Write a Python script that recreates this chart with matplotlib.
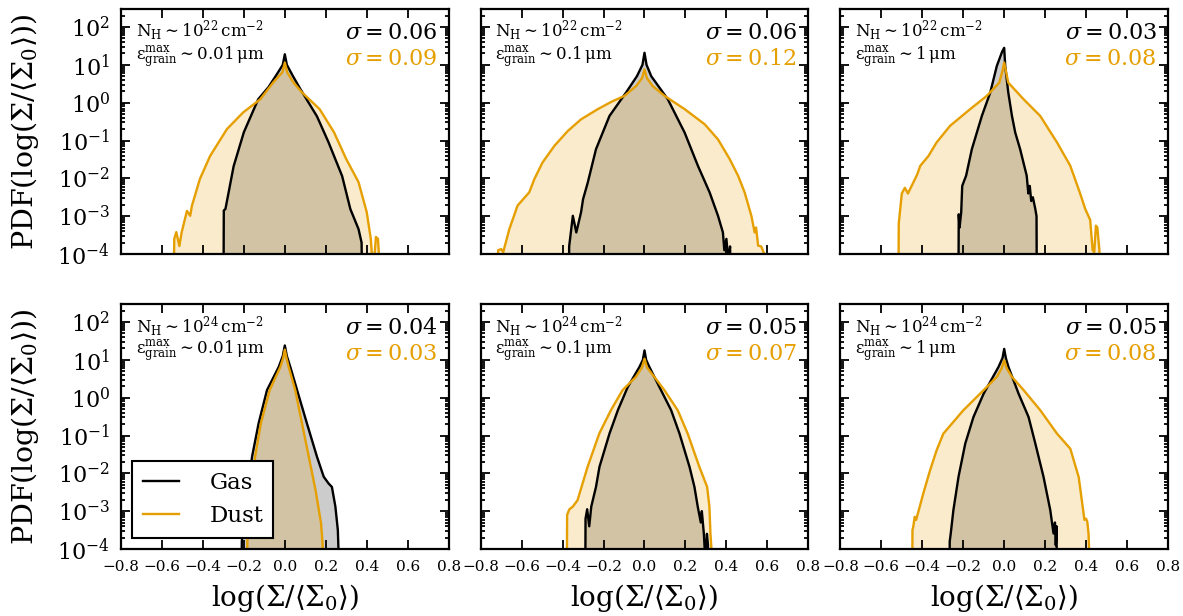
import numpy as np
import matplotlib
matplotlib.use("Agg")
import matplotlib.pyplot as plt
from matplotlib.ticker import LogLocator, NullFormatter

plt.rcParams["font.family"] = ["DejaVu Serif"]
plt.rcParams["mathtext.fontset"] = "dejavuserif"

GAS_COLOR = "black"
DUST_COLOR = "#E69F00"

# column density / max grain size for each panel (row-major)
col_density = ["22", "22", "22", "24", "24", "24"]
grain_size = ["0.01", "0.1", "1", "0.01", "0.1", "1"]
sigma_gas = [0.06, 0.06, 0.03, 0.04, 0.05, 0.05]
sigma_dust = [0.09, 0.12, 0.08, 0.03, 0.07, 0.08]

# PDFs given as log10(PDF) at log(Sigma/<Sigma_0>) points; -6 marks "off the bottom"
gas_x_a = [-0.30, -0.298, -0.29, -0.25, -0.20, -0.13, -0.08, -0.045, -0.01, 0.0, 0.01, 0.04,
           0.077, 0.157, 0.213, 0.28, 0.32, 0.36, 0.375, 0.38]
gas_lp_a = [-6, -2.85, -2.81, -1.68, -0.78, 0.09, 0.41, 0.70, 1.0, 1.28, 1.0, 0.70,
            0.35, -0.36, -1.04, -1.94, -2.81, -3.34, -3.7, -6]
dust_x_a = [-0.545, -0.54, -0.53, -0.515, -0.504, -0.478, -0.462, -0.454, -0.415, -0.365,
            -0.283, -0.204, -0.12, -0.056, -0.012, 0.0, 0.012, 0.04, 0.084, 0.17, 0.24,
            0.30, 0.36, 0.40, 0.42, 0.432, 0.445, 0.455, 0.465, 0.47]
dust_lp_a = [-6, -3.6, -3.42, -3.79, -3.43, -2.86, -2.99, -2.73, -2.02, -1.41,
             -0.70, -0.26, 0.09, 0.54, 0.8, 1.06, 0.8, 0.55, 0.27, -0.17, -0.78,
             -1.49, -2.1, -2.89, -3.6, -4.5, -3.55, -3.6, -4.5, -6]

gas_x_b = [-0.37, -0.368, -0.35, -0.333, -0.31, -0.30, -0.277, -0.237, -0.171, -0.09, -0.037,
           -0.01, 0.0, 0.01, 0.033, 0.114, 0.196, 0.261, 0.318, 0.359, 0.383, 0.39, 0.40,
           0.41, 0.418, 0.424]
gas_lp_b = [-6, -3.8, -2.99, -3.43, -2.9, -2.55, -2.11, -1.23, -0.35, 0.27, 0.70,
            1.0, 1.32, 1.0, 0.70, 0.09, -0.79, -1.67, -2.37, -2.99, -3.43, -3.9, -3.6,
            -4.2, -3.8, -6]
dust_x_b = [-0.72, -0.715, -0.70, -0.69, -0.66, -0.62, -0.563, -0.538, -0.498, -0.44, -0.375,
            -0.31, -0.228, -0.163, -0.098, -0.041, -0.012, 0.0, 0.012, 0.04, 0.098, 0.196,
            0.294, 0.359, 0.416, 0.457, 0.489, 0.522, 0.538, 0.545, 0.555, 0.57, 0.585, 0.587]
dust_lp_b = [-6, -3.9, -3.87, -3.95, -3.34, -2.72, -2.37, -2.02, -1.58, -1.14, -0.75,
             -0.44, -0.17, 0.02, 0.18, 0.44, 0.65, 0.88, 0.65, 0.44, 0.18, -0.17,
             -0.57, -0.97, -1.49, -1.93, -2.37, -2.99, -3.43, -3.3, -3.78, -3.8, -4.0, -6]

gas_x_c = [-0.224, -0.222, -0.218, -0.21, -0.205, -0.186, -0.158, -0.109, -0.068, -0.036,
           -0.01, 0.0, 0.005, 0.02, 0.038, 0.054, 0.078, 0.11, 0.118, 0.125, 0.132, 0.14,
           0.152, 0.158, 0.16]
gas_lp_c = [-6, -2.95, -3.3, -2.9, -2.2, -1.93, -1.23, -0.35, 0.27, 0.97,
            1.35, 1.45, 0.97, 0.27, -0.35, -0.79, -1.23, -1.93, -2.4, -2.2, -2.6, -2.5,
            -2.81, -3.0, -6]
dust_x_c = [-0.517, -0.515, -0.50, -0.485, -0.47, -0.425, -0.41, -0.37, -0.33, -0.264, -0.166,
            -0.085, -0.024, -0.008, 0.0, 0.008, 0.02, 0.095, 0.176, 0.258, 0.323, 0.369,
            0.396, 0.42, 0.432, 0.44, 0.448, 0.455, 0.465, 0.473]
dust_lp_c = [-6, -3.2, -2.4, -2.25, -2.4, -1.9, -1.67, -1.41, -1.05, -0.61, -0.17,
             0.18, 0.53, 0.85, 1.06, 0.85, 0.53, 0.09, -0.35, -1.05, -1.67, -2.37,
             -2.81, -3.1, -3.9, -3.95, -3.25, -3.3, -3.9, -6]

gas_x_d = [-0.213, -0.21, -0.20, -0.16, -0.128, -0.087, -0.03, -0.01, 0.0, 0.01, 0.027, 0.06,
           0.108, 0.157, 0.19, 0.214, 0.23, 0.247, 0.259, 0.262, 0.263]
gas_lp_d = [-6, -3.8, -3.32, -1.56, -0.68, 0.20, 0.81, 1.1, 1.38, 1.1, 0.81, 0.20,
            -0.68, -1.56, -2.09, -2.27, -2.36, -2.88, -3.50, -4.0, -6]
dust_x_d = [-0.185, -0.183, -0.177, -0.164, -0.145, -0.117, -0.074, -0.022, -0.008, 0.0, 0.008,
            0.019, 0.051, 0.084, 0.117, 0.15, 0.177, 0.185, 0.187]
dust_lp_d = [-6, -3.8, -3.32, -2.44, -1.56, -0.68, 0.20, 0.81, 1.05, 1.27, 1.05,
             0.81, 0.20, -0.68, -1.56, -2.44, -3.32, -3.9, -6]

gas_x_e = [-0.29, -0.288, -0.28, -0.27, -0.26, -0.237, -0.22, -0.171, -0.13, -0.082, -0.025,
           -0.008, 0.0, 0.008, 0.024, 0.073, 0.13, 0.171, 0.22, 0.244, 0.26, 0.275, 0.28,
           0.29, 0.297, 0.305, 0.31, 0.315]
gas_lp_e = [-6, -3.2, -2.95, -3.4, -2.88, -2.36, -1.83, -0.95, -0.33, 0.28, 0.81,
            1.0, 1.25, 1.0, 0.81, 0.28, -0.33, -0.95, -1.83, -2.36, -2.88, -3.3, -3.0,
            -3.6, -4.3, -3.6, -3.9, -6]
dust_x_e = [-0.38, -0.378, -0.367, -0.35, -0.327, -0.278, -0.221, -0.164, -0.107, -0.042,
            -0.012, 0.0, 0.012, 0.048, 0.097, 0.162, 0.211, 0.268, 0.306, 0.317, 0.322,
            0.327, 0.329]
dust_lp_e = [-6, -3.1, -2.95, -2.88, -2.71, -1.83, -0.95, -0.33, 0.20, 0.55,
             0.8, 1.03, 0.8, 0.55, 0.20, -0.33, -0.95, -1.83, -2.36, -2.88, -3.58,
             -4.0, -6]

gas_x_f = [-0.268, -0.266, -0.261, -0.248, -0.223, -0.19, -0.15, -0.10, -0.028, -0.008, 0.0,
           0.008, 0.021, 0.07, 0.119, 0.152, 0.192, 0.225, 0.241, 0.248, 0.252, 0.256, 0.258]
gas_lp_f = [-6, -3.8, -3.59, -2.97, -2.09, -1.21, -0.51, 0.11, 0.81, 1.05, 1.29,
            1.05, 0.81, 0.11, -0.51, -1.21, -2.09, -2.97, -3.59, -3.3, -3.9, -3.4, -6]
dust_x_f = [-0.45, -0.448, -0.444, -0.437, -0.43, -0.395, -0.362, -0.33, -0.297, -0.199, -0.10,
            -0.036, -0.012, 0.0, 0.012, 0.038, 0.095, 0.176, 0.258, 0.323, 0.364, 0.392,
            0.40, 0.406, 0.412, 0.416, 0.417]
dust_lp_f = [-6, -3.5, -3.41, -3.15, -3.23, -2.53, -1.92, -1.39, -0.95, -0.33, 0.20,
             0.55, 0.78, 0.99, 0.78, 0.55, 0.20, -0.33, -0.95, -1.35, -2.1, -3.23,
             -3.2, -3.28, -3.6, -4.2, -6]

gas_curves = [(gas_x_a, gas_lp_a), (gas_x_b, gas_lp_b), (gas_x_c, gas_lp_c),
              (gas_x_d, gas_lp_d), (gas_x_e, gas_lp_e), (gas_x_f, gas_lp_f)]
dust_curves = [(dust_x_a, dust_lp_a), (dust_x_b, dust_lp_b), (dust_x_c, dust_lp_c),
               (dust_x_d, dust_lp_d), (dust_x_e, dust_lp_e), (dust_x_f, dust_lp_f)]

fig, axes = plt.subplots(2, 3, figsize=(11.83, 6.16), dpi=100, sharex=True, sharey=True)
fig.subplots_adjust(left=0.1023, right=0.9873, bottom=0.1088, top=0.9854,
                    wspace=0.098, hspace=0.204)

for i, ax in enumerate(axes.flat):
    gx, glp = gas_curves[i]
    dx, dlp = dust_curves[i]
    gpdf = 10.0 ** np.asarray(glp)
    dpdf = 10.0 ** np.asarray(dlp)

    ax.fill_between(gx, gpdf, 1e-7, color=GAS_COLOR, alpha=0.2, lw=0)
    ax.fill_between(dx, dpdf, 1e-7, color=DUST_COLOR, alpha=0.2, lw=0)
    ax.plot(gx, gpdf, color=GAS_COLOR, lw=1.7, label="Gas")
    ax.plot(dx, dpdf, color=DUST_COLOR, lw=1.7, label="Dust")

    ax.set_yscale("log")
    ax.set_xlim(-0.8, 0.8)
    ax.set_ylim(1e-4, 3e2)
    ax.set_xticks(np.arange(-0.8, 0.81, 0.2))
    ax.yaxis.set_major_locator(LogLocator(base=10, numticks=20))
    ax.yaxis.set_minor_locator(LogLocator(base=10, subs=np.arange(2, 10), numticks=20))
    ax.yaxis.set_minor_formatter(NullFormatter())
    ax.tick_params(which="both", direction="in", top=True, right=True, width=1.3)
    ax.tick_params(which="major", length=6.5)
    ax.tick_params(which="minor", length=3.2)
    ax.tick_params(axis="x", labelsize=11, pad=8)
    ax.tick_params(axis="y", labelsize=16, pad=8)
    for sp in ax.spines.values():
        sp.set_linewidth(1.6)

    ax.text(0.045, 0.885, r"$\mathrm{N_H \sim 10^{%s}\,cm^{-2}}$" % col_density[i],
            transform=ax.transAxes, fontsize=12, ha="left", va="baseline")
    ax.text(0.045, 0.793, r"$\mathrm{\varepsilon^{max}_{grain} \sim %s\,\mu m}$" % grain_size[i],
            transform=ax.transAxes, fontsize=12, ha="left", va="baseline")
    ax.text(0.966, 0.877, r"$\sigma = %.2f$" % sigma_gas[i], transform=ax.transAxes,
            fontsize=16, ha="right", va="baseline", color=GAS_COLOR)
    ax.text(0.966, 0.772, r"$\sigma = %.2f$" % sigma_dust[i], transform=ax.transAxes,
            fontsize=16, ha="right", va="baseline", color=DUST_COLOR)

for ax in axes[:, 0]:
    ax.set_ylabel(r"$\mathrm{PDF}(\log(\Sigma/\langle\Sigma_0\rangle))$", fontsize=20.5,
                  labelpad=12)
for ax in axes[1, :]:
    ax.set_xlabel(r"$\log(\Sigma/\langle\Sigma_0\rangle)$", fontsize=20, labelpad=6)

leg = axes[1, 0].legend(loc="lower left", fontsize=16.5, fancybox=False, framealpha=1,
                        edgecolor="black", handlelength=1.6, handletextpad=1.3,
                        borderpad=0.45)
leg.get_frame().set_linewidth(1.5)

fig.savefig("out.png", dpi=100)
